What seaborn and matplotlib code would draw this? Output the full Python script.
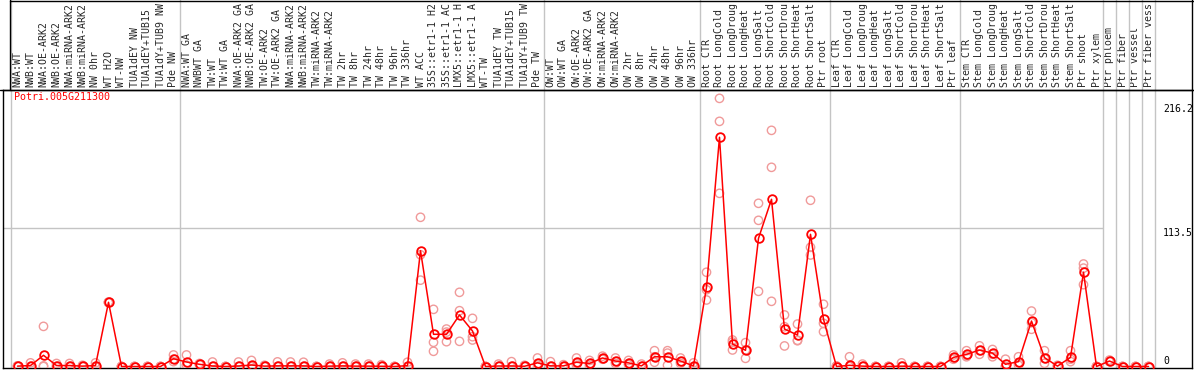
import numpy as np
import pandas as pd
import matplotlib
matplotlib.use("Agg")
import matplotlib.pyplot as plt
from matplotlib.lines import Line2D
import seaborn as sns

gene = "Potri.005G211300"

categories = [
    "NWA:WT", "NWB:WT", "NWA:OE-ARK2", "NWB:OE-ARK2", "NWA:miRNA-ARK2", "NWB:miRNA-ARK2",
    "NW 0hr", "WT H2O", "WT-NW", "TUA1dEY NW", "TUA1dEY+TUB15 NW", "TUA1dY+TUB9 NW", "Pde NW",
    "NWA:WT GA", "NWBWT GA", "TW:WT", "TW:WT GA", "NWA:OE-ARK2 GA", "NWB:OE-ARK2 GA",
    "TW:OE-ARK2", "TW:OE-ARK2 GA", "NWA:miRNA-ARK2", "NWB:miRNA-ARK2", "TW:miRNA-ARK2",
    "TW:miRNA-ARK2", "TW 2hr", "TW 8hr", "TW 24hr", "TW 48hr", "TW 96hr", "TW 336hr",
    "WT ACC", "35S::etr1-1 H2O", "35S::etr1-1 ACC", "LMX5::etr1-1 H2O", "LMX5::etr1-1 ACC",
    "WT-TW", "TUA1dEY TW", "TUA1dEY+TUB15 TW", "TUA1dY+TUB9 TW", "Pde TW",
    "OW:WT", "OW:WT GA", "OW:OE-ARK2", "OW:OE-ARK2 GA", "OW:miRNA-ARK2", "OW:miRNA-ARK2",
    "OW 2hr", "OW 8hr", "OW 24hr", "OW 48hr", "OW 96hr", "OW 336hr",
    "Root CTR", "Root LongCold", "Root LongDrought", "Root LongHeat", "Root LongSalt",
    "Root ShortCold", "Root ShortDrought", "Root ShortHeat", "Root ShortSalt", "Ptr root",
    "Leaf CTR", "Leaf LongCold", "Leaf LongDrought", "Leaf LongHeat", "Leaf LongSalt",
    "Leaf ShortCold", "Leaf ShortDrought", "Leaf ShortHeat", "Leaf ShortSalt", "Ptr leaf",
    "Stem CTR", "Stem LongCold", "Stem LongDrought", "Stem LongHeat", "Stem LongSalt",
    "Stem ShortCold", "Stem ShortDrought", "Stem ShortHeat", "Stem ShortSalt", "Ptr shoot",
    "Ptr xylem", "Ptr phloem", "Ptr fiber", "Ptr vessel", "Ptr fiber vessel",
]

# number of samples in each group (separators drawn between groups)
group_sizes = [13, 28, 12, 10, 10, 11, 1, 1, 1, 1]

mean_values = [
    0.3, 0.8, 9.2, 0.8, 0.8, 0.3, 0.8, 52.8, 0, 0, 0, 0, 6.4,
    3.7, 1.8, 0.4, 0, 0.4, 1.2, 0.3, 0.5, 0.5, 0.5, 0, 0.3, 0.5, 0.3, 0.3, 0.2, 0, 0.7,
    95.2, 26.5, 26.5, 42.4, 29.2, 0, 0.4, 0.4, 0.2, 3.0,
    0.5, 0.5, 3.5, 2.5, 7.0, 4.5, 3.0, 0.5, 8.0, 8.0, 4.5, 0.5,
    65.1, 188.5, 18.5, 13.3, 105.4, 137.5, 30.8, 25.9, 108.7, 38.8,
    0, 1.0, 0.3, 0, 0, 0.3, 0, 0, 0, 7.5,
    10.0, 13.5, 11.0, 1.8, 4.0, 37.4, 7.3, 0.3, 7.5, 77.5, 0,
    4.5, 0, 0, 0,
]

rep_a = [
    0.5, 3.0, 33.0, 2.5, 2.5, 1.0, 3.0, 53.0, 0, 0, 0, 0, 9.5,
    9.5, 2.5, 3.7, 0, 3.7, 5.0, 1.0, 3.8, 3.7, 3.5, 0, 2.0, 3.0, 2.0, 2.0, 1.5, 0, 3.5,
    122.7, 47.0, 30.8, 61.0, 39.6, 0, 2.0, 4.0, 1.0, 7.0,
    4.0, 1.5, 7.0, 5.0, 8.5, 7.0, 5.0, 2.0, 13.0, 13.0, 7.0, 3.0,
    77.5, 220.5, 21.8, 19.6, 134.2, 194.2, 42.4, 34.9, 136.7, 51.2,
    0.5, 8.0, 2.0, 0, 0, 3.0, 0, 0, 0, 9.5,
    13.0, 17.0, 14.0, 6.0, 8.0, 45.6, 13.0, 1.0, 13.0, 84.3, 0,
    5.3, 0, 0, 0,
]

rep_b = [
    0, 0, 0.5, 0, 0, 0, 0, 52.5, 0, 0, 0, 0, 6.0,
    1.0, 1.5, 0, 0, 0, 0, 0, 0, 0, 0, 0, 0, 0, 0, 0, 0, 0, 0,
    71.0, 19.9, 20.4, 45.9, 24.5, 0, 0, 0, 0, 2.0,
    0, 0, 2.5, 2.0, 6.5, 4.0, 2.5, 0, 8.0, 11.0, 4.0, 0,
    54.7, 201.6, 13.6, 6.7, 120.2, 163.8, 16.9, 21.2, 98.0, 35.5,
    0, 0, 0, 0, 0, 0, 0, 0, 0, 7.0,
    9.0, 13.0, 10.0, 0, 3.0, 30.6, 6.5, 0, 6.0, 67.3, 0,
    4.0, 0, 0, 0,
]

rep_c = [
    0.4, 0, 0, 0, 0, 0, 0, 52.8, 0, 0, 0, 0, 4.0,
    1.0, 1.5, 0, 0, 0, 0, 0, 0, 0, 0, 0, 0, 0, 0, 0, 0, 0, 0,
    91.9, 12.5, 28.3, 20.7, 21.8, 0, 0, 0, 0, 0,
    0, 0, 1.0, 0.5, 6.0, 2.5, 1.5, 0, 3.5, 1.0, 2.5, 0,
    63.1, 142.4, 20.1, 13.6, 61.8, 53.6, 32.7, 21.6, 91.7, 28.6,
    0, 0, 0, 0, 0, 0, 0, 0, 0, 6.0,
    8.0, 10.0, 8.0, 0, 1.0, 36.0, 2.6, 0, 4.0, 80.9, 0,
    4.2, 0, 0, 0,
]

y_tick_values = [0, 113.5, 216.2]
y_tick_labels = ["0", "113.5", "216.2"]

# ---------------------------------------------------------------
W, H = 1194, 370
n = len(categories)
idx = np.arange(n)

mean_df = pd.DataFrame({"idx": idx, "value": mean_values})
rep_df = pd.DataFrame({
    "idx": np.concatenate([idx, idx, idx]),
    "value": np.concatenate([rep_a, rep_b, rep_c]),
})

sns.set_style("white")
mono = ["DejaVu Sans Mono", "DejaVu Sans"]
plt.rcParams["font.family"] = mono

fig = plt.figure(figsize=(W / 100, H / 100), dpi=100)

def px_x(p):
    return p / W

def px_y(p):
    return 1 - p / H

ax_left_px, ax_right_px = 2.5, 1192.0
ax_top_px, ax_bot_px = 90.0, 368.0
ax = fig.add_axes([px_x(ax_left_px), px_y(ax_bot_px),
                   (ax_right_px - ax_left_px) / W, (ax_bot_px - ax_top_px) / H])

col0_px, col_w = 17.5, 13.0
zero_px, unit_px = 366.5, 1.216
ax.set_xlim((ax_left_px - col0_px) / col_w, (ax_right_px - col0_px) / col_w)
ax.set_ylim((zero_px - ax_bot_px) / unit_px, (zero_px - ax_top_px) / unit_px)

pink = "#f09a9a"
red = "#ff0000"

sns.scatterplot(data=rep_df, x="idx", y="value", ax=ax, marker="o", s=36,
                facecolors="none", edgecolor=pink, linewidth=1.0, zorder=3,
                legend=False)
sns.lineplot(data=mean_df, x="idx", y="value", ax=ax, color=red, linewidth=1.1,
             estimator=None, sort=True, marker="o", markersize=6.2,
             markerfacecolor="none", markeredgecolor=red, markeredgewidth=1.3,
             zorder=4, legend=False)

# separators between groups
bounds = np.cumsum([0] + group_sizes)
ext = 1 + ax_top_px / (ax_bot_px - ax_top_px)
for b in bounds:
    ax.axvline(b - 0.5, ymin=0, ymax=ext + 0.01, color="#c4c4c4", lw=1.0,
               clip_on=False, zorder=1)
ax.hlines(113.5, ax.get_xlim()[0], bounds[6] - 0.5, color="#c4c4c4", lw=1.0, zorder=1)

# top category labels (the header strip shows at most 14 characters)
ax.set_xticks(idx)
ax.set_xticklabels([c[:14] for c in categories], rotation=90, fontsize=7.1, family=mono)
ax.xaxis.tick_top()
ax.tick_params(axis="x", length=0, pad=2.3)
ax.set_yticks([])
ax.set_xlabel("")
ax.set_ylabel("")

# y value labels on the right
tx = (1163 - col0_px) / col_w
for v, lab in zip(y_tick_values, y_tick_labels):
    ax.text(tx, v, lab, ha="left", va="bottom" if v == 0 else "top",
            fontsize=7.1, family=mono, color="black")

ax.text((14 - col0_px) / col_w, (zero_px - 97) / unit_px, gene, color=red,
        fontsize=7.2, family=mono, ha="left", va="center")

for sp in ax.spines.values():
    sp.set_color("black")
    sp.set_linewidth(1.0)

# outer frame of the label area
for (x0, y0, x1, y1) in [(10, 0.5, W, 0.5), (10, 0, 10, 90), (1192, 0, 1192, 90),
                         (0, 90, W, 90)]:
    fig.add_artist(Line2D([px_x(x0), px_x(x1)], [px_y(y0), px_y(y1)],
                          transform=fig.transFigure, color="black", lw=1.0))

fig.savefig("out.png", dpi=100)
